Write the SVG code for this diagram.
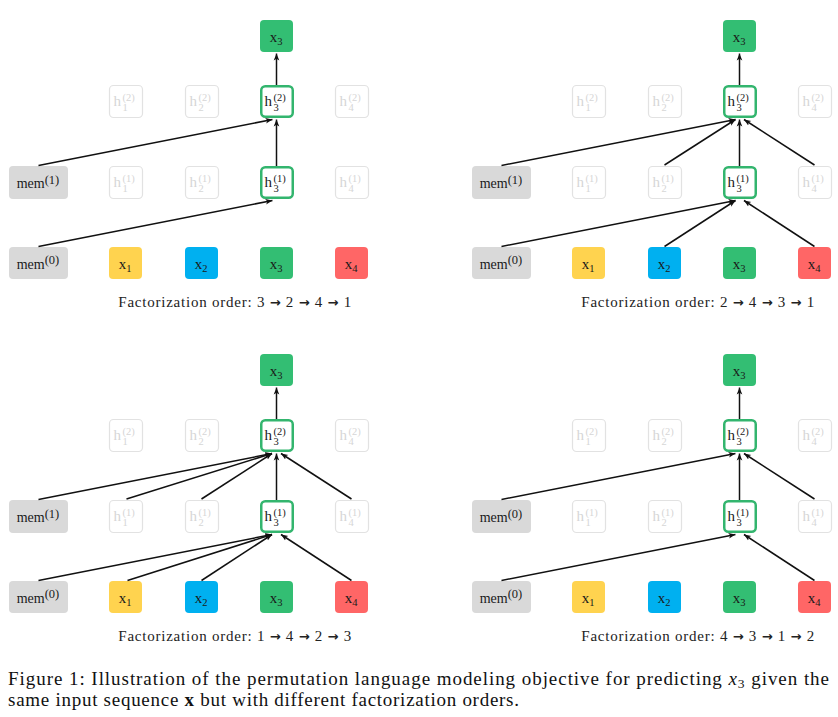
<svg xmlns="http://www.w3.org/2000/svg" width="838" height="717" viewBox="0 0 838 717">
<style>
  text { font-family: "Liberation Serif", "Times New Roman", serif; fill: #1a1a1a; }
  .lbl { font-size: 15px; }
  .sm { font-size: 10.5px; }
  .mem { font-size: 14px; }
  .memsup { font-size: 12.5px; }
  .green { fill: #33BE73; }
  .yellow { fill: #FFD34F; }
  .blue { fill: #00B0F0; }
  .red { fill: #FF6666; }
  .gray { fill: #D9D9D9; }
  .faded { fill: #FFFFFF; stroke: #E2E2E2; stroke-width: 1.2; }
  .faded-t { fill: #D6D6D6; }
  .active { fill: #FFFFFF; stroke: #33B56E; stroke-width: 2.5; }
  .edge { stroke: #111; stroke-width: 1.5; fill: none; marker-end: url(#ah); }
  .cap { font-size: 15px; fill: #222; }
  .arr { font-family: "DejaVu Sans", sans-serif; font-weight: bold; font-size: 13px; fill: #222; }
  .fig { font-size: 19px; fill: #111; }
</style>
<defs>
  <marker id="ah" viewBox="0 0 10 10" refX="10" refY="5" markerWidth="7" markerHeight="7" markerUnits="userSpaceOnUse" orient="auto">
    <path d="M0,1 L10,5 L0,9 L2.5,5 Z" fill="#111"/>
  </marker>
  <g id="out">
    <rect x="260" y="20" width="33" height="32" rx="4" class="green"/>
    <text x="276" y="41.5" class="lbl" text-anchor="middle">x<tspan class="sm" dy="3.5">3</tspan></text>
  </g>
  <g id="fh2-1"><rect x="109.5" y="85.5" width="33" height="32" rx="4" class="faded"/><text x="113.5" y="106" class="lbl faded-t">h</text><text x="122.5" y="100.5" class="sm faded-t">(2)</text><text x="122.5" y="111" class="sm faded-t">1</text></g>
  <g id="fh2-2"><rect x="185.5" y="85.5" width="33" height="32" rx="4" class="faded"/><text x="189.5" y="106" class="lbl faded-t">h</text><text x="198.5" y="100.5" class="sm faded-t">(2)</text><text x="198.5" y="111" class="sm faded-t">2</text></g>
  <g id="ah2-3"><rect x="261.25" y="86.25" width="31.5" height="30.5" rx="4" class="active"/><text x="264.5" y="106" class="lbl">h</text><text x="273.5" y="100.5" class="sm">(2)</text><text x="273.5" y="111" class="sm">3</text></g>
  <g id="fh2-4"><rect x="335.5" y="85.5" width="33" height="32" rx="4" class="faded"/><text x="339.5" y="106" class="lbl faded-t">h</text><text x="348.5" y="100.5" class="sm faded-t">(2)</text><text x="348.5" y="111" class="sm faded-t">4</text></g>
  <g id="fh1-1"><rect x="109.5" y="166.5" width="33" height="32" rx="4" class="faded"/><text x="113.5" y="187" class="lbl faded-t">h</text><text x="122.5" y="181.5" class="sm faded-t">(1)</text><text x="122.5" y="192" class="sm faded-t">1</text></g>
  <g id="fh1-2"><rect x="185.5" y="166.5" width="33" height="32" rx="4" class="faded"/><text x="189.5" y="187" class="lbl faded-t">h</text><text x="198.5" y="181.5" class="sm faded-t">(1)</text><text x="198.5" y="192" class="sm faded-t">2</text></g>
  <g id="ah1-3"><rect x="261.25" y="167.25" width="31.5" height="30.5" rx="4" class="active"/><text x="264.5" y="187" class="lbl">h</text><text x="273.5" y="181.5" class="sm">(1)</text><text x="273.5" y="192" class="sm">3</text></g>
  <g id="fh1-4"><rect x="335.5" y="166.5" width="33" height="32" rx="4" class="faded"/><text x="339.5" y="187" class="lbl faded-t">h</text><text x="348.5" y="181.5" class="sm faded-t">(1)</text><text x="348.5" y="192" class="sm faded-t">4</text></g>
  <g id="in1"><rect x="109" y="247" width="33" height="32" rx="4" class="yellow"/><text x="125" y="268.5" class="lbl" text-anchor="middle">x<tspan class="sm" dy="3.5">1</tspan></text></g>
  <g id="in2"><rect x="185" y="247" width="33" height="32" rx="4" class="blue"/><text x="201" y="268.5" class="lbl" text-anchor="middle">x<tspan class="sm" dy="3.5">2</tspan></text></g>
  <g id="in3"><rect x="260" y="247" width="33" height="32" rx="4" class="green"/><text x="276" y="268.5" class="lbl" text-anchor="middle">x<tspan class="sm" dy="3.5">3</tspan></text></g>
  <g id="in4"><rect x="335" y="247" width="33" height="32" rx="4" class="red"/><text x="351" y="268.5" class="lbl" text-anchor="middle">x<tspan class="sm" dy="3.5">4</tspan></text></g>
</defs>

<g id="panel-tl">
  <g id="tl-x3-out"><use href="#out"/></g>
  <g id="tl-h2-1"><use href="#fh2-1"/></g>
  <g id="tl-h2-2"><use href="#fh2-2"/></g>
  <g id="tl-h2-3"><use href="#ah2-3"/></g>
  <g id="tl-h2-4"><use href="#fh2-4"/></g>
  <g id="tl-mem1"><rect x="9" y="166" width="59" height="33" rx="4" class="gray"/><text x="38" y="188" class="mem" text-anchor="middle">mem<tspan class="memsup" dy="-4.5">(1)</tspan></text></g>
  <g id="tl-h1-1"><use href="#fh1-1"/></g>
  <g id="tl-h1-2"><use href="#fh1-2"/></g>
  <g id="tl-h1-3"><use href="#ah1-3"/></g>
  <g id="tl-h1-4"><use href="#fh1-4"/></g>
  <g id="tl-mem0"><rect x="9" y="247" width="59" height="32" rx="4" class="gray"/><text x="38" y="268.5" class="mem" text-anchor="middle">mem<tspan class="memsup" dy="-4.5">(0)</tspan></text></g>
  <g id="tl-x1"><use href="#in1"/></g>
  <g id="tl-x2"><use href="#in2"/></g>
  <g id="tl-x3"><use href="#in3"/></g>
  <g id="tl-x4"><use href="#in4"/></g>
  <text x="118.3" y="306.5" class="cap" textLength="233" lengthAdjust="spacing">Factorization order: 3 <tspan class="arr">→</tspan> 2 <tspan class="arr">→</tspan> 4 <tspan class="arr">→</tspan> 1</text>
</g>

<g id="panel-tr" transform="translate(463,0)">
  <g id="tr-x3-out"><use href="#out"/></g>
  <g id="tr-h2-1"><use href="#fh2-1"/></g>
  <g id="tr-h2-2"><use href="#fh2-2"/></g>
  <g id="tr-h2-3"><use href="#ah2-3"/></g>
  <g id="tr-h2-4"><use href="#fh2-4"/></g>
  <g id="tr-mem1"><rect x="9" y="166" width="59" height="33" rx="4" class="gray"/><text x="38" y="188" class="mem" text-anchor="middle">mem<tspan class="memsup" dy="-4.5">(1)</tspan></text></g>
  <g id="tr-h1-1"><use href="#fh1-1"/></g>
  <g id="tr-h1-2"><use href="#fh1-2"/></g>
  <g id="tr-h1-3"><use href="#ah1-3"/></g>
  <g id="tr-h1-4"><use href="#fh1-4"/></g>
  <g id="tr-mem0"><rect x="9" y="247" width="59" height="32" rx="4" class="gray"/><text x="38" y="268.5" class="mem" text-anchor="middle">mem<tspan class="memsup" dy="-4.5">(0)</tspan></text></g>
  <g id="tr-x1"><use href="#in1"/></g>
  <g id="tr-x2"><use href="#in2"/></g>
  <g id="tr-x3"><use href="#in3"/></g>
  <g id="tr-x4"><use href="#in4"/></g>
  <text x="118.3" y="306.5" class="cap" textLength="233" lengthAdjust="spacing">Factorization order: 2 <tspan class="arr">→</tspan> 4 <tspan class="arr">→</tspan> 3 <tspan class="arr">→</tspan> 1</text>
</g>

<g id="panel-bl" transform="translate(0,334)">
  <g id="bl-x3-out"><use href="#out"/></g>
  <g id="bl-h2-1"><use href="#fh2-1"/></g>
  <g id="bl-h2-2"><use href="#fh2-2"/></g>
  <g id="bl-h2-3"><use href="#ah2-3"/></g>
  <g id="bl-h2-4"><use href="#fh2-4"/></g>
  <g id="bl-mem1"><rect x="9" y="166" width="59" height="33" rx="4" class="gray"/><text x="38" y="188" class="mem" text-anchor="middle">mem<tspan class="memsup" dy="-4.5">(1)</tspan></text></g>
  <g id="bl-h1-1"><use href="#fh1-1"/></g>
  <g id="bl-h1-2"><use href="#fh1-2"/></g>
  <g id="bl-h1-3"><use href="#ah1-3"/></g>
  <g id="bl-h1-4"><use href="#fh1-4"/></g>
  <g id="bl-mem0"><rect x="9" y="247" width="59" height="32" rx="4" class="gray"/><text x="38" y="268.5" class="mem" text-anchor="middle">mem<tspan class="memsup" dy="-4.5">(0)</tspan></text></g>
  <g id="bl-x1"><use href="#in1"/></g>
  <g id="bl-x2"><use href="#in2"/></g>
  <g id="bl-x3"><use href="#in3"/></g>
  <g id="bl-x4"><use href="#in4"/></g>
  <text x="118.3" y="306.5" class="cap" textLength="233" lengthAdjust="spacing">Factorization order: 1 <tspan class="arr">→</tspan> 4 <tspan class="arr">→</tspan> 2 <tspan class="arr">→</tspan> 3</text>
</g>

<g id="panel-br" transform="translate(463,334)">
  <g id="br-x3-out"><use href="#out"/></g>
  <g id="br-h2-1"><use href="#fh2-1"/></g>
  <g id="br-h2-2"><use href="#fh2-2"/></g>
  <g id="br-h2-3"><use href="#ah2-3"/></g>
  <g id="br-h2-4"><use href="#fh2-4"/></g>
  <g id="br-mem0-mid"><rect x="9" y="166" width="59" height="33" rx="4" class="gray"/><text x="38" y="188" class="mem" text-anchor="middle">mem<tspan class="memsup" dy="-4.5">(0)</tspan></text></g>
  <g id="br-h1-1"><use href="#fh1-1"/></g>
  <g id="br-h1-2"><use href="#fh1-2"/></g>
  <g id="br-h1-3"><use href="#ah1-3"/></g>
  <g id="br-h1-4"><use href="#fh1-4"/></g>
  <g id="br-mem0"><rect x="9" y="247" width="59" height="32" rx="4" class="gray"/><text x="38" y="268.5" class="mem" text-anchor="middle">mem<tspan class="memsup" dy="-4.5">(0)</tspan></text></g>
  <g id="br-x1"><use href="#in1"/></g>
  <g id="br-x2"><use href="#in2"/></g>
  <g id="br-x3"><use href="#in3"/></g>
  <g id="br-x4"><use href="#in4"/></g>
  <text x="118.3" y="306.5" class="cap" textLength="233" lengthAdjust="spacing">Factorization order: 4 <tspan class="arr">→</tspan> 3 <tspan class="arr">→</tspan> 1 <tspan class="arr">→</tspan> 2</text>
</g>

<g id="connectors">
  <g id="edges-tl">
    <line class="edge" x1="276.5" y1="85" x2="276.5" y2="53.5"/>
    <line class="edge" x1="276.5" y1="166" x2="276.5" y2="119.5"/>
    <line class="edge" x1="38.5" y1="165.5" x2="272.5" y2="119.5"/>
    <line class="edge" x1="38.5" y1="246.5" x2="272.5" y2="200.5"/>
  </g>
  <g id="edges-tr" transform="translate(463,0)">
    <line class="edge" x1="276.5" y1="85" x2="276.5" y2="53.5"/>
    <line class="edge" x1="276.5" y1="166" x2="276.5" y2="119.5"/>
    <line class="edge" x1="38.5" y1="165.5" x2="272.5" y2="119.5"/>
    <line class="edge" x1="201.5" y1="165" x2="272.5" y2="119.5"/>
    <line class="edge" x1="351.5" y1="165" x2="281" y2="119.5"/>
    <line class="edge" x1="38.5" y1="246.5" x2="272.5" y2="200.5"/>
    <line class="edge" x1="201.5" y1="246.5" x2="272.5" y2="200.5"/>
    <line class="edge" x1="351.5" y1="246.5" x2="281" y2="200.5"/>
  </g>
  <g id="edges-bl" transform="translate(0,334)">
    <line class="edge" x1="276.5" y1="85" x2="276.5" y2="53.5"/>
    <line class="edge" x1="276.5" y1="166" x2="276.5" y2="119.5"/>
    <line class="edge" x1="38.5" y1="165.5" x2="272" y2="119.5"/>
    <line class="edge" x1="126.5" y1="165" x2="272" y2="119.5"/>
    <line class="edge" x1="201.5" y1="165" x2="272" y2="119.5"/>
    <line class="edge" x1="351.5" y1="165" x2="281" y2="119.5"/>
    <line class="edge" x1="38.5" y1="246.5" x2="272" y2="200.5"/>
    <line class="edge" x1="127.5" y1="246.5" x2="272" y2="200.5"/>
    <line class="edge" x1="201.5" y1="246.5" x2="272" y2="200.5"/>
    <line class="edge" x1="351.5" y1="246.5" x2="281" y2="200.5"/>
  </g>
  <g id="edges-br" transform="translate(463,334)">
    <line class="edge" x1="276.5" y1="85" x2="276.5" y2="53.5"/>
    <line class="edge" x1="276.5" y1="166" x2="276.5" y2="119.5"/>
    <line class="edge" x1="38.5" y1="165.5" x2="272.5" y2="119.5"/>
    <line class="edge" x1="351.5" y1="165" x2="281" y2="119.5"/>
    <line class="edge" x1="38.5" y1="246.5" x2="272.5" y2="200.5"/>
    <line class="edge" x1="351.5" y1="246.5" x2="281" y2="200.5"/>
  </g>
</g>

<g id="figure-caption">
  <text x="8" y="685" class="fig" textLength="821" lengthAdjust="spacing">Figure 1: Illustration of the permutation language modeling objective for predicting <tspan font-style="italic">x</tspan><tspan font-size="13.5" dy="3">3</tspan><tspan dy="-3"> given the</tspan></text>
  <text x="8" y="705.5" class="fig" textLength="511" lengthAdjust="spacing">same input sequence <tspan font-weight="bold">x</tspan> but with different factorization orders.</text>
</g>
</svg>
